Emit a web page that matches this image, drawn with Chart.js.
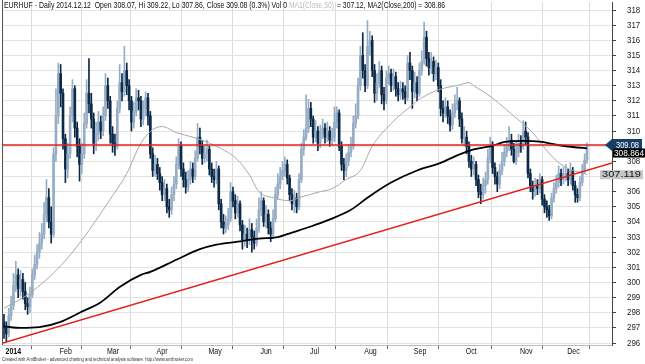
<!DOCTYPE html>
<html><head><meta charset="utf-8">
<script src="https://cdn.jsdelivr.net/npm/chart.js@4.4.1/dist/chart.umd.min.js"></script>
<style>html,body{margin:0;padding:0;background:#fff;}canvas{display:block;}</style>
</head><body>
<canvas id="c" width="645" height="364"></canvas>
<script>
// ---- Data (EURHUF daily, 2014-01-01 .. 2014-12-12), one entry per trading day ----
const monthLabels = ['2014','Feb','Mar','Apr','May','Jun','Jul','Aug','Sep','Oct','Nov','Dec'];
const monthStart  = [0,23,43,64,86,108,129,152,173,195,218,238];

const open = [
 297.4,297.0,296.6,297.8,298.5,299.8,300.5,299.6,300.2,299.4,298.6,298.4,299.2,300.5,301.2,302.0,302.6,303.2,304.5,305.6,304.0,303.2,308.5,
 311.0,313.8,312.5,309.5,307.5,308.5,311.0,312.8,310.2,309.0,307.8,308.5,310.5,312.5,311.8,310.8,309.2,309.8,310.6,310.0,
 311.0,313.0,312.0,309.8,309.2,309.0,311.5,313.2,312.6,314.0,313.0,312.0,310.6,311.3,312.2,312.0,310.8,311.5,312.2,311.0,308.5,
 307.4,307.8,307.2,306.6,305.8,306.2,305.0,304.8,305.8,306.5,307.8,309.0,307.5,306.8,306.3,306.8,307.5,307.0,308.2,309.6,309.0,308.2,
 308.5,308.8,307.5,307.0,306.8,307.5,305.2,304.0,303.6,303.8,304.2,306.0,305.4,304.6,305.2,303.8,302.8,303.2,302.8,303.5,303.0,302.6,
 303.6,304.8,305.4,304.0,304.5,303.6,303.2,304.2,305.8,306.5,307.0,307.4,307.8,306.9,305.8,305.2,305.6,305.0,306.8,308.8,309.6,
 310.2,311.5,310.8,309.6,310.0,309.2,309.8,310.2,309.6,310.0,309.4,309.6,310.6,311.2,309.0,307.8,307.4,308.0,308.6,309.0,310.5,311.0,313.0,
 315.0,314.0,313.0,315.6,316.0,314.0,312.5,313.2,314.0,312.4,312.0,313.5,313.8,313.0,313.6,312.8,312.4,312.8,312.6,312.2,314.5,
 314.0,312.6,313.2,312.5,314.0,314.6,316.2,314.8,314.2,314.6,313.8,314.2,313.0,311.5,311.2,311.6,311.0,310.4,311.2,311.8,312.0,310.8,
 309.5,309.6,309.0,308.0,307.5,307.8,306.8,306.0,305.8,306.4,306.8,308.2,309.0,307.6,307.0,306.5,307.4,308.0,308.6,309.0,309.4,308.8,308.0,
 308.6,309.2,309.0,310.0,309.6,307.2,306.4,306.0,306.4,306.2,306.8,305.5,305.0,304.8,304.4,305.6,306.2,306.6,307.2,306.8,
 307.0,307.2,306.8,307.4,306.4,305.8,305.6,306.6,307.4,308.07
];
const high = [
 297.9,297.4,298.3,299.1,300.6,301.4,300.9,300.8,300.6,300.0,299.0,299.7,300.9,301.8,302.5,303.3,303.9,305.3,306.8,306.2,305.0,308.9,312.8,
 314.5,314.4,312.8,309.8,309.2,311.6,313.4,313.0,310.6,309.5,309.2,311.2,313.4,314.8,312.5,311.2,310.6,311.3,311.0,311.6,
 313.8,313.5,312.3,310.3,309.8,312.0,314.4,313.8,315.6,314.5,313.4,312.3,311.9,312.8,312.7,312.3,312.0,312.6,312.5,311.3,308.9,
 308.4,308.2,307.6,307.0,306.8,306.5,305.5,306.3,307.0,308.3,309.5,309.3,307.9,307.3,307.4,308.0,307.9,308.7,310.5,310.2,309.4,309.1,
 309.4,309.0,307.9,307.5,308.0,307.7,305.5,304.5,304.4,304.9,306.6,306.3,305.8,305.7,305.4,304.1,303.8,303.6,304.2,303.9,303.4,304.2,
 305.6,306.0,305.6,305.1,304.8,304.0,304.8,306.3,307.2,307.6,308.0,308.3,308.1,307.1,306.2,306.1,305.9,307.2,309.2,310.1,312.4,
 312.1,311.9,311.0,310.7,310.3,310.4,310.8,310.5,310.6,310.3,310.2,311.6,311.6,311.4,309.3,308.2,308.5,309.1,309.6,311.0,311.8,313.5,315.6,
 316.5,314.4,317.3,316.6,316.3,314.4,313.8,314.6,314.3,312.9,314.0,314.3,314.1,314.1,313.9,313.2,313.3,313.2,313.0,315.0,315.2,
 314.3,313.9,313.6,314.5,315.3,317.2,316.6,315.2,315.2,314.9,314.7,314.5,313.4,312.0,312.2,312.0,311.4,311.8,312.4,312.9,312.2,311.2,
 310.3,310.0,309.3,308.4,308.3,308.0,307.1,306.5,306.9,307.3,308.8,309.6,309.3,307.9,307.3,307.8,308.6,309.1,309.6,310.3,309.8,309.2,309.3,
 309.8,309.7,310.7,310.6,309.9,307.5,306.7,306.9,306.8,307.2,307.0,305.8,305.4,305.1,305.9,306.6,307.1,307.7,307.5,307.6,
 307.8,307.5,307.9,307.6,306.7,306.2,307.0,307.8,308.5,309.22
];
const low = [
 296.3,296.1,296.4,297.5,298.2,299.4,299.0,299.1,298.9,298.2,297.9,298.0,299.0,300.2,300.9,301.6,302.2,302.9,304.0,303.6,302.6,303.0,308.0,
 310.5,311.6,308.8,306.6,306.9,308.2,310.6,309.6,308.3,306.7,307.2,308.2,310.2,311.2,310.2,308.5,308.7,309.4,309.5,309.7,
 310.7,311.5,309.2,308.6,308.4,308.8,311.2,312.0,312.3,312.4,311.4,310.0,310.2,311.0,311.4,310.3,310.4,311.0,310.4,308.2,307.0,
 307.0,306.8,306.1,305.4,305.4,304.6,304.3,304.5,305.4,306.2,307.5,307.0,306.3,305.9,306.0,306.5,306.6,306.8,308.0,308.5,307.8,307.9,
 308.0,307.1,306.6,306.3,306.5,304.8,303.6,303.2,303.3,303.5,304.0,305.0,304.2,304.3,303.4,302.2,302.4,302.3,302.5,302.0,302.2,302.4,
 303.3,304.4,303.7,303.6,303.2,302.7,303.0,304.0,305.5,306.2,306.8,307.0,306.5,305.4,304.8,304.6,304.6,304.8,306.6,308.4,309.4,
 309.9,310.3,309.2,309.3,308.7,308.9,309.5,309.2,309.3,309.0,309.1,309.3,310.2,308.7,307.4,306.8,307.0,307.7,308.3,308.8,310.2,310.8,312.7,
 313.5,312.6,312.8,315.0,313.6,311.9,312.0,312.9,311.8,311.4,311.8,313.1,312.6,312.7,312.3,312.0,312.1,312.1,311.8,312.0,313.4,
 311.5,312.2,312.0,312.3,313.7,314.4,314.3,313.7,313.8,313.3,313.4,312.6,311.0,310.6,310.9,310.5,310.0,310.1,310.9,311.4,310.3,309.2,
 309.0,308.5,307.6,307.0,307.1,306.4,305.6,305.2,305.5,305.9,306.5,307.9,307.2,306.5,306.0,306.2,307.1,307.7,308.3,308.7,308.4,307.9,307.8,
 308.3,308.6,308.8,309.1,306.9,306.0,305.5,305.7,305.8,305.9,305.1,304.6,304.3,304.1,304.2,305.3,305.9,306.3,306.4,306.5,
 306.7,306.4,306.5,306.1,305.3,305.3,305.4,306.4,307.2,307.86
];
const close = [
 297.0,296.6,297.8,298.5,299.8,300.5,299.6,300.2,299.4,298.6,298.4,299.2,300.5,301.2,302.0,302.6,303.2,304.5,305.6,304.0,303.2,308.5,311.0,
 313.8,312.5,309.5,307.5,308.5,311.0,312.8,310.2,309.0,307.8,308.5,310.5,312.5,311.8,310.8,309.2,309.8,310.6,310.0,311.0,
 313.0,312.0,309.8,309.2,309.0,311.5,313.2,312.6,314.0,313.0,312.0,310.6,311.3,312.2,312.0,310.8,311.5,312.2,311.0,308.5,307.4,
 307.8,307.2,306.6,305.8,306.2,305.0,304.8,305.8,306.5,307.8,309.0,307.5,306.8,306.3,306.8,307.5,307.0,308.2,309.6,309.0,308.2,308.5,
 308.8,307.5,307.0,306.8,307.5,305.2,304.0,303.6,303.8,304.2,306.0,305.4,304.6,305.2,303.8,302.8,303.2,302.8,303.5,303.0,302.6,303.6,
 304.8,305.4,304.0,304.5,303.6,303.2,304.2,305.8,306.5,307.0,307.4,307.8,306.9,305.8,305.2,305.6,305.0,306.8,308.8,309.6,310.2,
 311.5,310.8,309.6,310.0,309.2,309.8,310.2,309.6,310.0,309.4,309.6,310.6,311.2,309.0,307.8,307.4,308.0,308.6,309.0,310.5,311.0,313.0,315.0,
 314.0,313.0,315.6,316.0,314.0,312.5,313.2,314.0,312.4,312.0,313.5,313.8,313.0,313.6,312.8,312.4,312.8,312.6,312.2,314.5,314.0,
 312.6,313.2,312.5,314.0,314.6,316.2,314.8,314.2,314.6,313.8,314.2,313.0,311.5,311.2,311.6,311.0,310.4,311.2,311.8,312.0,310.8,309.5,
 309.6,309.0,308.0,307.5,307.8,306.8,306.0,305.8,306.4,306.8,308.2,309.0,307.6,307.0,306.5,307.4,308.0,308.6,309.0,309.4,308.8,308.0,308.6,
 309.2,309.0,310.0,309.6,307.2,306.4,306.0,306.4,306.2,306.8,305.5,305.0,304.8,304.4,305.6,306.2,306.6,307.2,306.8,307.0,
 307.2,306.8,307.4,306.4,305.8,305.6,306.6,307.4,308.07,309.08
];

// Moving averages (bar index, value)
const ma50Idx = [0,11,24,33,45,52,58,63,67,73,80,90,99,104,108,114,121,125,134,139,145,151,156,164,172,176,182,188,192,197,199,206,213,219,224,228,233,237,241,245,247];
const ma50Val = [298.3,299.3,301.1,302.8,305.5,307.2,309.2,310.1,310.3,309.9,309.6,309.0,308.1,307.1,306.0,305.6,305.4,305.6,306.0,306.2,306.8,307.4,309.0,310.5,311.6,312.1,312.6,312.9,313.0,313.2,313.0,312.3,311.4,310.6,309.9,309.1,308.2,307.7,307.4,307.25,307.12];
const ma200Idx = [0,7,15,24,32,41,49,58,62,73,83,90,99,108,116,122,130,137,147,154,164,175,185,192,199,206,213,220,227,234,241,247];
const ma200Val = [297.1,297.0,297.05,297.4,298.0,298.7,299.7,300.5,300.7,301.5,302.2,302.5,302.7,302.9,303.0,303.3,303.7,304.1,304.8,305.6,306.6,307.4,307.9,308.4,308.8,309.0,309.3,309.35,309.3,309.1,308.95,308.86];
// Support trendline and last-close level
const trendIdx = [-0.85,257.6];
const trendVal = [295.98,307.9];
const levelIdx = [-0.85,257.6];
const levelVal = [309.08,309.08];
const yTicks = [296,297,298,299,300,301,302,303,304,305,306,307,308,309,310,311,312,313,314,315,316,317,318];

// ---- Build chart ----
const UP = '#96adc5', DOWN = '#0c2948';
const idx = close.map((_, i) => i);
const barColors = idx.map(i => close[i] >= open[i] ? UP : DOWN);
const wickData = idx.map(i => ({x: i, y: [low[i], high[i]]}));
const bodyData = idx.map(i => ({x: i, y: [Math.min(open[i], close[i]), Math.max(open[i], close[i])]}));
const pts = (xs, ys) => xs.map((x, k) => ({x: x, y: ys[k]}));

function fitText(ctx, s, x, y, font, color, align, sx) {
  ctx.save();
  ctx.font = font; ctx.fillStyle = color; ctx.textBaseline = 'middle'; ctx.textAlign = 'left';
  const w = ctx.measureText(s).width;
  const wOut = w * sx;
  let x0 = x;
  if (align === 'right') x0 = x - wOut;
  if (align === 'center') x0 = x - wOut / 2;
  ctx.translate(x0, y); ctx.scale(sx, 1);
  ctx.fillText(s, 0, 0);
  ctx.restore();
  return wOut;
}
function fitWidth(ctx, s, x, y, font, color, width) {
  ctx.save();
  ctx.font = font; ctx.fillStyle = color; ctx.textBaseline = 'middle'; ctx.textAlign = 'left';
  const w = ctx.measureText(s).width;
  ctx.translate(x, y); ctx.scale(width / w, 1);
  ctx.fillText(s, 0, 0);
  ctx.restore();
}

const overlay = {
  id: 'overlay',
  afterDraw(chart) {
    const ctx = chart.ctx, ca = chart.chartArea;
    const xs = chart.scales.x, ys = chart.scales.y;
    const F = '"Liberation Sans", Arial, sans-serif';
    // left border
    ctx.save();
    ctx.strokeStyle = '#555'; ctx.lineWidth = 1;
    ctx.beginPath(); ctx.moveTo(ca.left + 0.5, 0); ctx.lineTo(ca.left + 0.5, ca.bottom); ctx.stroke();
    ctx.restore();
    // header
    fitWidth(ctx, 'EURHUF - Daily 2014.12.12  Open 308.07, Hi 309.22, Lo 307.86, Close 309.08 (0.3%) Vol 0', 4, 5.5, '9px ' + F, '#111', 283);
    fitWidth(ctx, 'MA1(Close,50)', 289, 5.5, '9px ' + F, '#bdbdbd', 45);
    fitWidth(ctx, '= 307.12, MA2(Close,200) = 308.86', 337, 5.5, '9px ' + F, '#111', 108);
    // y labels
    yTicks.forEach(v => {
      fitText(ctx, String(v), 627, ys.getPixelForValue(v), '9px ' + F, '#222', 'left', 0.88);
    });
    // x labels
    monthStart.forEach((m, k) => {
      const px = xs.getPixelForValue(m);
      const bold = k === 0;
      fitText(ctx, monthLabels[k], px + 1.5, ca.bottom + 7, (bold ? 'bold ' : '') + '9px ' + F, '#111', 'left', 0.78);
    });
    // footer
    fitWidth(ctx, 'Created with AmiBroker - advanced charting and technical analysis software. http://www.amibroker.com', 2, 359.8, '6px ' + F, '#333', 191);
    // value boxes on the right axis
    const y1 = ys.getPixelForValue(levelVal[1]);
    ctx.save();
    ctx.fillStyle = '#173f66';
    ctx.beginPath();
    ctx.moveTo(605, y1); ctx.lineTo(612, y1 - 6); ctx.lineTo(642, y1 - 6); ctx.lineTo(642, y1 + 6); ctx.lineTo(612, y1 + 6); ctx.closePath(); ctx.fill();
    ctx.restore();
    fitWidth(ctx, '309.08', 616, y1, '9px ' + F, '#fff', 23);
    const y2 = Math.max(ys.getPixelForValue(ma200Val[ma200Val.length - 1]), y1 + 7.5);
    ctx.save(); ctx.fillStyle = '#000'; ctx.fillRect(613, y2 - 4, 32, 9); ctx.restore();
    fitWidth(ctx, '308.864', 614, y2 + 0.5, '9px ' + F, '#fff', 30);
    const y3 = ys.getPixelForValue(307.119);
    ctx.save(); ctx.fillStyle = '#c6c6c6'; ctx.fillRect(600, y3 - 4.5, 43, 9); ctx.restore();
    fitWidth(ctx, '307.119', 602, y3, '9px ' + F, '#111', 39);
  }
};

new Chart(document.getElementById('c').getContext('2d'), {
  type: 'bar',
  data: {
    datasets: [
      {type: 'line', data: pts(levelIdx, levelVal), borderColor: '#e3211c', borderWidth: 1.6, pointRadius: 0, order: 0},
      {type: 'line', data: pts(trendIdx, trendVal), borderColor: '#e3211c', borderWidth: 1.6, pointRadius: 0, order: 0},
      {type: 'line', data: pts(ma200Idx, ma200Val), borderColor: '#000000', borderWidth: 1.8, pointRadius: 0, cubicInterpolationMode: 'monotone', order: 1},
      {type: 'line', data: pts(ma50Idx, ma50Val), borderColor: '#a8a8a8', borderWidth: 1, pointRadius: 0, cubicInterpolationMode: 'monotone', order: 2},
      {type: 'bar', data: bodyData, backgroundColor: barColors, barThickness: 2, grouped: false, borderWidth: 0, order: 4},
      {type: 'bar', data: wickData, backgroundColor: barColors, barThickness: 1, grouped: false, borderWidth: 0, order: 5}
    ]
  },
  options: {
    responsive: false, animation: false, devicePixelRatio: 1,
    events: [],
    layout: {padding: {left: 2, top: 2, right: 0, bottom: 0}},
    plugins: {legend: {display: false}, tooltip: {enabled: false}},
    scales: {
      x: {
        type: 'linear', min: -0.85, max: 257.6, offset: false,
        afterBuildTicks: s => { s.ticks = monthStart.map(v => ({value: v})); },
        afterFit: s => { s.height = 19; },
        ticks: {display: false},
        grid: {color: '#dcdcdc', tickLength: 4, tickColor: '#666', drawTicks: true},
        border: {display: true, color: '#bbbbbb'}
      },
      y: {
        position: 'right', min: 295.87, max: 318.53,
        afterBuildTicks: s => { s.ticks = yTicks.map(v => ({value: v})); },
        afterFit: s => { s.width = 33; },
        ticks: {display: false},
        grid: {color: '#e3e3e3', tickLength: 4, tickColor: '#444', drawTicks: true},
        border: {display: true, color: '#444'}
      }
    }
  },
  plugins: [overlay]
});
</script>
</body></html>
